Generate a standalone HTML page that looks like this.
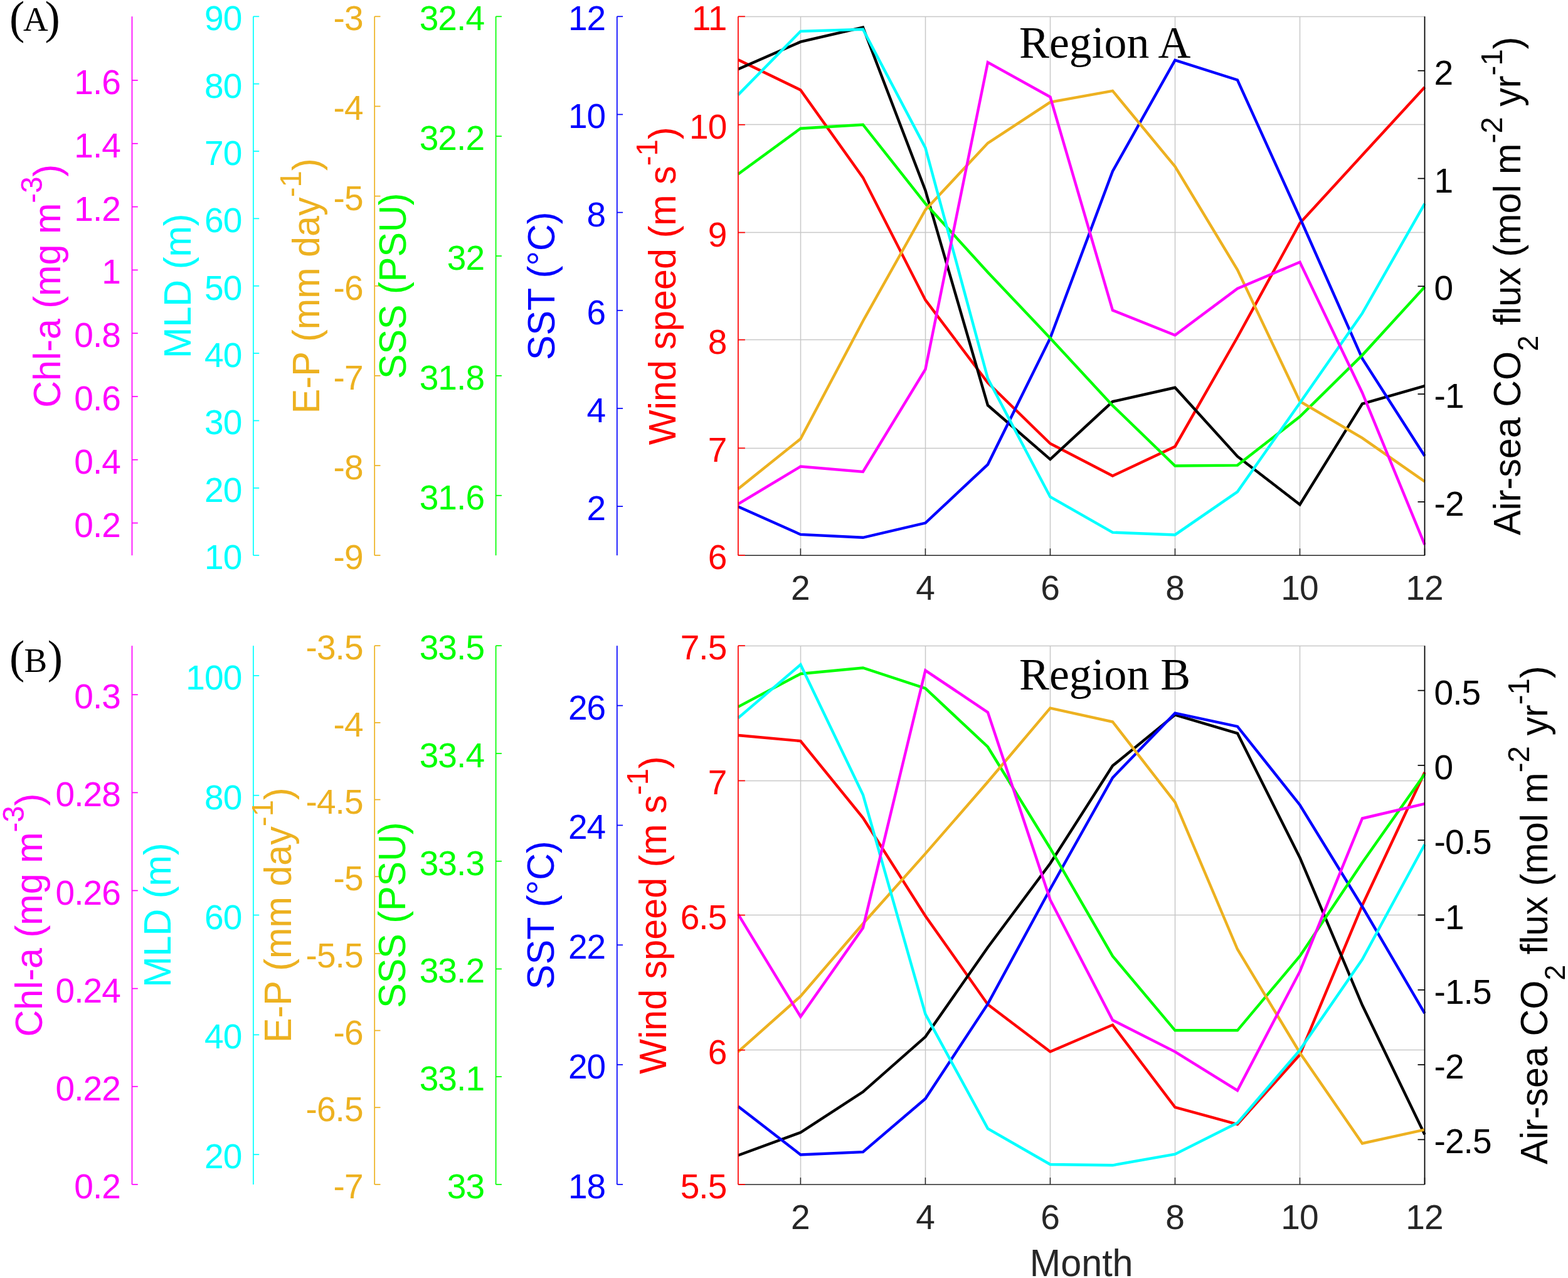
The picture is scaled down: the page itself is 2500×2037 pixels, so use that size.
<!DOCTYPE html>
<html><head><meta charset="utf-8"><title>Region A / Region B monthly climatology</title>
<style>
html,body{margin:0;padding:0;background:#fff;}
svg{display:block;}
</style></head>
<body>
<svg width="2500" height="2037" viewBox="0 0 2500 2037">
<rect width="2500" height="2037" fill="#fff"/>
<line x1="1276.5" y1="26.3" x2="1276.5" y2="885.2" stroke="#c8c8c8" stroke-width="1.5" stroke-linecap="butt"/>
<line x1="1475.5" y1="26.3" x2="1475.5" y2="885.2" stroke="#c8c8c8" stroke-width="1.5" stroke-linecap="butt"/>
<line x1="1674.5" y1="26.3" x2="1674.5" y2="885.2" stroke="#c8c8c8" stroke-width="1.5" stroke-linecap="butt"/>
<line x1="1873.5" y1="26.3" x2="1873.5" y2="885.2" stroke="#c8c8c8" stroke-width="1.5" stroke-linecap="butt"/>
<line x1="2072.5" y1="26.3" x2="2072.5" y2="885.2" stroke="#c8c8c8" stroke-width="1.5" stroke-linecap="butt"/>
<line x1="2271.5" y1="26.3" x2="2271.5" y2="885.2" stroke="#c8c8c8" stroke-width="1.5" stroke-linecap="butt"/>
<line x1="1176.9" y1="714.5" x2="2271.5" y2="714.5" stroke="#c8c8c8" stroke-width="1.5" stroke-linecap="butt"/>
<line x1="1176.9" y1="541.5" x2="2271.5" y2="541.5" stroke="#c8c8c8" stroke-width="1.5" stroke-linecap="butt"/>
<line x1="1176.9" y1="370.5" x2="2271.5" y2="370.5" stroke="#c8c8c8" stroke-width="1.5" stroke-linecap="butt"/>
<line x1="1176.9" y1="198.5" x2="2271.5" y2="198.5" stroke="#c8c8c8" stroke-width="1.5" stroke-linecap="butt"/>
<line x1="1176.9" y1="26.5" x2="2271.5" y2="26.5" stroke="#c8c8c8" stroke-width="1.5" stroke-linecap="butt"/>
<polyline points="1176.9,95.3 1276.409,143.4 1375.918,283.1 1475.427,478.2 1574.936,610 1674.445,707 1773.955,758.5 1873.464,711.7 1972.973,537.5 2072.482,355.8 2171.991,247.3 2271.5,138.9" fill="none" stroke="#ff0000" stroke-width="4.4" stroke-linejoin="miter" stroke-miterlimit="3" stroke-linecap="butt"/>
<polyline points="1176.9,110.2 1276.409,66.7 1375.918,43.5 1475.427,303.5 1574.936,646 1674.445,732.1 1773.955,640.1 1873.464,617.8 1972.973,727.5 2072.482,804.2 2171.991,643.7 2271.5,615.1" fill="none" stroke="#000000" stroke-width="4.4" stroke-linejoin="miter" stroke-miterlimit="3" stroke-linecap="butt"/>
<polyline points="1176.9,807.5 1276.409,851.9 1375.918,856.8 1475.427,833.6 1574.936,740.3 1674.445,538.9 1773.955,273 1873.464,95.8 1972.973,127.5 2072.482,347 2171.991,571.5 2271.5,726.7" fill="none" stroke="#0000ff" stroke-width="4.4" stroke-linejoin="miter" stroke-miterlimit="3" stroke-linecap="butt"/>
<polyline points="1176.9,277.6 1276.409,204.7 1375.918,198.7 1475.427,324.5 1574.936,433.9 1674.445,538.9 1773.955,646.4 1873.464,742.5 1972.973,741.6 2072.482,664.1 2171.991,566.1 2271.5,457.2" fill="none" stroke="#00ff00" stroke-width="4.4" stroke-linejoin="miter" stroke-miterlimit="3" stroke-linecap="butt"/>
<polyline points="1176.9,779.2 1276.409,699.5 1375.918,511.7 1475.427,334.5 1574.936,228.1 1674.445,162.8 1773.955,144.8 1873.464,265.4 1972.973,430 2072.482,639.6 2171.991,698.1 2271.5,767.5" fill="none" stroke="#edb120" stroke-width="4.4" stroke-linejoin="miter" stroke-miterlimit="3" stroke-linecap="butt"/>
<polyline points="1176.9,151.1 1276.409,49.8 1375.918,46.8 1475.427,235.6 1574.936,603.2 1674.445,792 1773.955,848.6 1873.464,852.4 1972.973,783.8 2072.482,642.3 2171.991,499.4 2271.5,324.7" fill="none" stroke="#00ffff" stroke-width="4.4" stroke-linejoin="miter" stroke-miterlimit="3" stroke-linecap="butt"/>
<polyline points="1176.9,803.4 1276.409,743.6 1375.918,752 1475.427,588.7 1574.936,99.3 1674.445,154.6 1773.955,494.5 1873.464,534.2 1972.973,459.9 2072.482,417.8 2171.991,626 2271.5,868.2" fill="none" stroke="#ff00ff" stroke-width="4.4" stroke-linejoin="miter" stroke-miterlimit="3" stroke-linecap="butt"/>
<line x1="1176.9" y1="885.2" x2="2271.5" y2="885.2" stroke="#262626" stroke-width="1.5" stroke-linecap="butt"/>
<line x1="1276.409" y1="885.2" x2="1276.409" y2="874.2" stroke="#262626" stroke-width="1.5" stroke-linecap="butt"/>
<text x="1276.409" y="955.9" fill="#262626" font-size="55" text-anchor="middle" font-family="'Liberation Sans', Arial, sans-serif">2</text>
<line x1="1475.427" y1="885.2" x2="1475.427" y2="874.2" stroke="#262626" stroke-width="1.5" stroke-linecap="butt"/>
<text x="1475.427" y="955.9" fill="#262626" font-size="55" text-anchor="middle" font-family="'Liberation Sans', Arial, sans-serif">4</text>
<line x1="1674.445" y1="885.2" x2="1674.445" y2="874.2" stroke="#262626" stroke-width="1.5" stroke-linecap="butt"/>
<text x="1674.445" y="955.9" fill="#262626" font-size="55" text-anchor="middle" font-family="'Liberation Sans', Arial, sans-serif">6</text>
<line x1="1873.464" y1="885.2" x2="1873.464" y2="874.2" stroke="#262626" stroke-width="1.5" stroke-linecap="butt"/>
<text x="1873.464" y="955.9" fill="#262626" font-size="55" text-anchor="middle" font-family="'Liberation Sans', Arial, sans-serif">8</text>
<line x1="2072.482" y1="885.2" x2="2072.482" y2="874.2" stroke="#262626" stroke-width="1.5" stroke-linecap="butt"/>
<text x="2072.032" y="955.9" fill="#262626" font-size="55" text-anchor="middle" font-family="'Liberation Sans', Arial, sans-serif" letter-spacing="-0.9">10</text>
<line x1="2271.5" y1="885.2" x2="2271.5" y2="874.2" stroke="#262626" stroke-width="1.5" stroke-linecap="butt"/>
<text x="2271.05" y="955.9" fill="#262626" font-size="55" text-anchor="middle" font-family="'Liberation Sans', Arial, sans-serif" letter-spacing="-0.9">12</text>
<line x1="210.5" y1="26.3" x2="210.5" y2="885.2" stroke="#ff00ff" stroke-width="1.7" stroke-linecap="butt"/>
<line x1="210.5" y1="833.6" x2="219.8" y2="833.6" stroke="#ff00ff" stroke-width="1.7" stroke-linecap="butt"/>
<text x="192" y="855.6" fill="#ff00ff" font-size="55" text-anchor="end" font-family="'Liberation Sans', Arial, sans-serif" letter-spacing="-0.9">0.2</text>
<line x1="210.5" y1="732.8" x2="219.8" y2="732.8" stroke="#ff00ff" stroke-width="1.7" stroke-linecap="butt"/>
<text x="192" y="754.8" fill="#ff00ff" font-size="55" text-anchor="end" font-family="'Liberation Sans', Arial, sans-serif" letter-spacing="-0.9">0.4</text>
<line x1="210.5" y1="632" x2="219.8" y2="632" stroke="#ff00ff" stroke-width="1.7" stroke-linecap="butt"/>
<text x="192" y="654" fill="#ff00ff" font-size="55" text-anchor="end" font-family="'Liberation Sans', Arial, sans-serif" letter-spacing="-0.9">0.6</text>
<line x1="210.5" y1="531.2" x2="219.8" y2="531.2" stroke="#ff00ff" stroke-width="1.7" stroke-linecap="butt"/>
<text x="192" y="553.2" fill="#ff00ff" font-size="55" text-anchor="end" font-family="'Liberation Sans', Arial, sans-serif" letter-spacing="-0.9">0.8</text>
<line x1="210.5" y1="430.4" x2="219.8" y2="430.4" stroke="#ff00ff" stroke-width="1.7" stroke-linecap="butt"/>
<text x="192.9" y="452.4" fill="#ff00ff" font-size="55" text-anchor="end" font-family="'Liberation Sans', Arial, sans-serif">1</text>
<line x1="210.5" y1="329.6" x2="219.8" y2="329.6" stroke="#ff00ff" stroke-width="1.7" stroke-linecap="butt"/>
<text x="192" y="351.6" fill="#ff00ff" font-size="55" text-anchor="end" font-family="'Liberation Sans', Arial, sans-serif" letter-spacing="-0.9">1.2</text>
<line x1="210.5" y1="228.8" x2="219.8" y2="228.8" stroke="#ff00ff" stroke-width="1.7" stroke-linecap="butt"/>
<text x="192" y="250.8" fill="#ff00ff" font-size="55" text-anchor="end" font-family="'Liberation Sans', Arial, sans-serif" letter-spacing="-0.9">1.4</text>
<line x1="210.5" y1="128" x2="219.8" y2="128" stroke="#ff00ff" stroke-width="1.7" stroke-linecap="butt"/>
<text x="192" y="150" fill="#ff00ff" font-size="55" text-anchor="end" font-family="'Liberation Sans', Arial, sans-serif" letter-spacing="-0.9">1.6</text>
<line x1="403.9" y1="26.3" x2="403.9" y2="885.2" stroke="#00ffff" stroke-width="1.7" stroke-linecap="butt"/>
<line x1="403.9" y1="885.2" x2="413.2" y2="885.2" stroke="#00ffff" stroke-width="1.7" stroke-linecap="butt"/>
<text x="385.4" y="907.2" fill="#00ffff" font-size="55" text-anchor="end" font-family="'Liberation Sans', Arial, sans-serif" letter-spacing="-0.9">10</text>
<line x1="403.9" y1="777.838" x2="413.2" y2="777.838" stroke="#00ffff" stroke-width="1.7" stroke-linecap="butt"/>
<text x="385.4" y="799.838" fill="#00ffff" font-size="55" text-anchor="end" font-family="'Liberation Sans', Arial, sans-serif" letter-spacing="-0.9">20</text>
<line x1="403.9" y1="670.475" x2="413.2" y2="670.475" stroke="#00ffff" stroke-width="1.7" stroke-linecap="butt"/>
<text x="385.4" y="692.475" fill="#00ffff" font-size="55" text-anchor="end" font-family="'Liberation Sans', Arial, sans-serif" letter-spacing="-0.9">30</text>
<line x1="403.9" y1="563.112" x2="413.2" y2="563.112" stroke="#00ffff" stroke-width="1.7" stroke-linecap="butt"/>
<text x="385.4" y="585.112" fill="#00ffff" font-size="55" text-anchor="end" font-family="'Liberation Sans', Arial, sans-serif" letter-spacing="-0.9">40</text>
<line x1="403.9" y1="455.75" x2="413.2" y2="455.75" stroke="#00ffff" stroke-width="1.7" stroke-linecap="butt"/>
<text x="385.4" y="477.75" fill="#00ffff" font-size="55" text-anchor="end" font-family="'Liberation Sans', Arial, sans-serif" letter-spacing="-0.9">50</text>
<line x1="403.9" y1="348.388" x2="413.2" y2="348.388" stroke="#00ffff" stroke-width="1.7" stroke-linecap="butt"/>
<text x="385.4" y="370.388" fill="#00ffff" font-size="55" text-anchor="end" font-family="'Liberation Sans', Arial, sans-serif" letter-spacing="-0.9">60</text>
<line x1="403.9" y1="241.025" x2="413.2" y2="241.025" stroke="#00ffff" stroke-width="1.7" stroke-linecap="butt"/>
<text x="385.4" y="263.025" fill="#00ffff" font-size="55" text-anchor="end" font-family="'Liberation Sans', Arial, sans-serif" letter-spacing="-0.9">70</text>
<line x1="403.9" y1="133.662" x2="413.2" y2="133.662" stroke="#00ffff" stroke-width="1.7" stroke-linecap="butt"/>
<text x="385.4" y="155.662" fill="#00ffff" font-size="55" text-anchor="end" font-family="'Liberation Sans', Arial, sans-serif" letter-spacing="-0.9">80</text>
<line x1="403.9" y1="26.3" x2="413.2" y2="26.3" stroke="#00ffff" stroke-width="1.7" stroke-linecap="butt"/>
<text x="385.4" y="48.3" fill="#00ffff" font-size="55" text-anchor="end" font-family="'Liberation Sans', Arial, sans-serif" letter-spacing="-0.9">90</text>
<line x1="597.2" y1="26.3" x2="597.2" y2="885.2" stroke="#edb120" stroke-width="1.7" stroke-linecap="butt"/>
<line x1="597.2" y1="885.2" x2="606.5" y2="885.2" stroke="#edb120" stroke-width="1.7" stroke-linecap="butt"/>
<text x="578.7" y="907.2" fill="#edb120" font-size="55" text-anchor="end" font-family="'Liberation Sans', Arial, sans-serif" letter-spacing="-0.9">-9</text>
<line x1="597.2" y1="742.05" x2="606.5" y2="742.05" stroke="#edb120" stroke-width="1.7" stroke-linecap="butt"/>
<text x="578.7" y="764.05" fill="#edb120" font-size="55" text-anchor="end" font-family="'Liberation Sans', Arial, sans-serif" letter-spacing="-0.9">-8</text>
<line x1="597.2" y1="598.9" x2="606.5" y2="598.9" stroke="#edb120" stroke-width="1.7" stroke-linecap="butt"/>
<text x="578.7" y="620.9" fill="#edb120" font-size="55" text-anchor="end" font-family="'Liberation Sans', Arial, sans-serif" letter-spacing="-0.9">-7</text>
<line x1="597.2" y1="455.75" x2="606.5" y2="455.75" stroke="#edb120" stroke-width="1.7" stroke-linecap="butt"/>
<text x="578.7" y="477.75" fill="#edb120" font-size="55" text-anchor="end" font-family="'Liberation Sans', Arial, sans-serif" letter-spacing="-0.9">-6</text>
<line x1="597.2" y1="312.6" x2="606.5" y2="312.6" stroke="#edb120" stroke-width="1.7" stroke-linecap="butt"/>
<text x="578.7" y="334.6" fill="#edb120" font-size="55" text-anchor="end" font-family="'Liberation Sans', Arial, sans-serif" letter-spacing="-0.9">-5</text>
<line x1="597.2" y1="169.45" x2="606.5" y2="169.45" stroke="#edb120" stroke-width="1.7" stroke-linecap="butt"/>
<text x="578.7" y="191.45" fill="#edb120" font-size="55" text-anchor="end" font-family="'Liberation Sans', Arial, sans-serif" letter-spacing="-0.9">-4</text>
<line x1="597.2" y1="26.3" x2="606.5" y2="26.3" stroke="#edb120" stroke-width="1.7" stroke-linecap="butt"/>
<text x="578.7" y="48.3" fill="#edb120" font-size="55" text-anchor="end" font-family="'Liberation Sans', Arial, sans-serif" letter-spacing="-0.9">-3</text>
<line x1="790.6" y1="26.3" x2="790.6" y2="885.2" stroke="#00ff00" stroke-width="1.7" stroke-linecap="butt"/>
<line x1="790.6" y1="789.767" x2="799.9" y2="789.767" stroke="#00ff00" stroke-width="1.7" stroke-linecap="butt"/>
<text x="772.1" y="811.767" fill="#00ff00" font-size="55" text-anchor="end" font-family="'Liberation Sans', Arial, sans-serif" letter-spacing="-0.9">31.6</text>
<line x1="790.6" y1="598.9" x2="799.9" y2="598.9" stroke="#00ff00" stroke-width="1.7" stroke-linecap="butt"/>
<text x="772.1" y="620.9" fill="#00ff00" font-size="55" text-anchor="end" font-family="'Liberation Sans', Arial, sans-serif" letter-spacing="-0.9">31.8</text>
<line x1="790.6" y1="408.033" x2="799.9" y2="408.033" stroke="#00ff00" stroke-width="1.7" stroke-linecap="butt"/>
<text x="772.1" y="430.033" fill="#00ff00" font-size="55" text-anchor="end" font-family="'Liberation Sans', Arial, sans-serif" letter-spacing="-0.9">32</text>
<line x1="790.6" y1="217.167" x2="799.9" y2="217.167" stroke="#00ff00" stroke-width="1.7" stroke-linecap="butt"/>
<text x="772.1" y="239.167" fill="#00ff00" font-size="55" text-anchor="end" font-family="'Liberation Sans', Arial, sans-serif" letter-spacing="-0.9">32.2</text>
<line x1="790.6" y1="26.3" x2="799.9" y2="26.3" stroke="#00ff00" stroke-width="1.7" stroke-linecap="butt"/>
<text x="772.1" y="48.3" fill="#00ff00" font-size="55" text-anchor="end" font-family="'Liberation Sans', Arial, sans-serif" letter-spacing="-0.9">32.4</text>
<line x1="983.8" y1="26.3" x2="983.8" y2="885.2" stroke="#0000ff" stroke-width="1.7" stroke-linecap="butt"/>
<line x1="983.8" y1="807.118" x2="993.1" y2="807.118" stroke="#0000ff" stroke-width="1.7" stroke-linecap="butt"/>
<text x="966.2" y="829.118" fill="#0000ff" font-size="55" text-anchor="end" font-family="'Liberation Sans', Arial, sans-serif">2</text>
<line x1="983.8" y1="650.955" x2="993.1" y2="650.955" stroke="#0000ff" stroke-width="1.7" stroke-linecap="butt"/>
<text x="966.2" y="672.955" fill="#0000ff" font-size="55" text-anchor="end" font-family="'Liberation Sans', Arial, sans-serif">4</text>
<line x1="983.8" y1="494.791" x2="993.1" y2="494.791" stroke="#0000ff" stroke-width="1.7" stroke-linecap="butt"/>
<text x="966.2" y="516.791" fill="#0000ff" font-size="55" text-anchor="end" font-family="'Liberation Sans', Arial, sans-serif">6</text>
<line x1="983.8" y1="338.627" x2="993.1" y2="338.627" stroke="#0000ff" stroke-width="1.7" stroke-linecap="butt"/>
<text x="966.2" y="360.627" fill="#0000ff" font-size="55" text-anchor="end" font-family="'Liberation Sans', Arial, sans-serif">8</text>
<line x1="983.8" y1="182.464" x2="993.1" y2="182.464" stroke="#0000ff" stroke-width="1.7" stroke-linecap="butt"/>
<text x="965.3" y="204.464" fill="#0000ff" font-size="55" text-anchor="end" font-family="'Liberation Sans', Arial, sans-serif" letter-spacing="-0.9">10</text>
<line x1="983.8" y1="26.3" x2="993.1" y2="26.3" stroke="#0000ff" stroke-width="1.7" stroke-linecap="butt"/>
<text x="965.3" y="48.3" fill="#0000ff" font-size="55" text-anchor="end" font-family="'Liberation Sans', Arial, sans-serif" letter-spacing="-0.9">12</text>
<line x1="1176.9" y1="26.3" x2="1176.9" y2="885.2" stroke="#ff0000" stroke-width="1.7" stroke-linecap="butt"/>
<line x1="1176.9" y1="885.2" x2="1187.9" y2="885.2" stroke="#ff0000" stroke-width="1.7" stroke-linecap="butt"/>
<text x="1159.3" y="907.2" fill="#ff0000" font-size="55" text-anchor="end" font-family="'Liberation Sans', Arial, sans-serif">6</text>
<line x1="1176.9" y1="714.3" x2="1187.9" y2="714.3" stroke="#ff0000" stroke-width="1.7" stroke-linecap="butt"/>
<text x="1159.3" y="736.3" fill="#ff0000" font-size="55" text-anchor="end" font-family="'Liberation Sans', Arial, sans-serif">7</text>
<line x1="1176.9" y1="541.6" x2="1187.9" y2="541.6" stroke="#ff0000" stroke-width="1.7" stroke-linecap="butt"/>
<text x="1159.3" y="563.6" fill="#ff0000" font-size="55" text-anchor="end" font-family="'Liberation Sans', Arial, sans-serif">8</text>
<line x1="1176.9" y1="370.6" x2="1187.9" y2="370.6" stroke="#ff0000" stroke-width="1.7" stroke-linecap="butt"/>
<text x="1159.3" y="392.6" fill="#ff0000" font-size="55" text-anchor="end" font-family="'Liberation Sans', Arial, sans-serif">9</text>
<line x1="1176.9" y1="198.8" x2="1187.9" y2="198.8" stroke="#ff0000" stroke-width="1.7" stroke-linecap="butt"/>
<text x="1158.4" y="220.8" fill="#ff0000" font-size="55" text-anchor="end" font-family="'Liberation Sans', Arial, sans-serif" letter-spacing="-0.9">10</text>
<line x1="1176.9" y1="26.3" x2="1187.9" y2="26.3" stroke="#ff0000" stroke-width="1.7" stroke-linecap="butt"/>
<text x="1158.4" y="48.3" fill="#ff0000" font-size="55" text-anchor="end" font-family="'Liberation Sans', Arial, sans-serif" letter-spacing="-0.9">11</text>
<line x1="2271.5" y1="26.3" x2="2271.5" y2="885.2" stroke="#000000" stroke-width="1.7" stroke-linecap="butt"/>
<line x1="2271.5" y1="799.9" x2="2260.5" y2="799.9" stroke="#000000" stroke-width="1.7" stroke-linecap="butt"/>
<text x="2286.5" y="821.9" fill="#000000" font-size="55" text-anchor="start" font-family="'Liberation Sans', Arial, sans-serif" letter-spacing="-0.9">-2</text>
<line x1="2271.5" y1="628.1" x2="2260.5" y2="628.1" stroke="#000000" stroke-width="1.7" stroke-linecap="butt"/>
<text x="2286.5" y="650.1" fill="#000000" font-size="55" text-anchor="start" font-family="'Liberation Sans', Arial, sans-serif" letter-spacing="-0.9">-1</text>
<line x1="2271.5" y1="456.3" x2="2260.5" y2="456.3" stroke="#000000" stroke-width="1.7" stroke-linecap="butt"/>
<text x="2286.5" y="478.3" fill="#000000" font-size="55" text-anchor="start" font-family="'Liberation Sans', Arial, sans-serif">0</text>
<line x1="2271.5" y1="284.5" x2="2260.5" y2="284.5" stroke="#000000" stroke-width="1.7" stroke-linecap="butt"/>
<text x="2286.5" y="306.5" fill="#000000" font-size="55" text-anchor="start" font-family="'Liberation Sans', Arial, sans-serif">1</text>
<line x1="2271.5" y1="112.7" x2="2260.5" y2="112.7" stroke="#000000" stroke-width="1.7" stroke-linecap="butt"/>
<text x="2286.5" y="134.7" fill="#000000" font-size="55" text-anchor="start" font-family="'Liberation Sans', Arial, sans-serif">2</text>
<text transform="translate(95.9,455.75) rotate(-90) scale(1,1.027)" fill="#ff00ff" font-size="59.3" text-anchor="middle" font-family="'Liberation Sans', Arial, sans-serif" xml:space="preserve"><tspan font-size="59.3">Chl-a (mg m</tspan><tspan font-size="47.5" dy="-28.238">-3</tspan><tspan font-size="59.3" dy="28.238">)</tspan></text>
<text transform="translate(303.8,455.75) rotate(-90) scale(1,1.027)" fill="#00ffff" font-size="59.3" text-anchor="middle" font-family="'Liberation Sans', Arial, sans-serif" xml:space="preserve"><tspan font-size="59.3">MLD (m)</tspan></text>
<text transform="translate(509.2,455.75) rotate(-90) scale(1,1.027)" fill="#edb120" font-size="59.3" text-anchor="middle" font-family="'Liberation Sans', Arial, sans-serif" xml:space="preserve"><tspan font-size="59.3">E-P (mm day</tspan><tspan font-size="47.5" dy="-28.238">-1</tspan><tspan font-size="59.3" dy="28.238">)</tspan></text>
<text transform="translate(647.2,455.75) rotate(-90) scale(1,1.027)" fill="#00ff00" font-size="59.3" text-anchor="middle" font-family="'Liberation Sans', Arial, sans-serif" xml:space="preserve"><tspan font-size="59.3">SSS (PSU)</tspan></text>
<text transform="translate(883.8,455.75) rotate(-90) scale(1,1.027)" fill="#0000ff" font-size="59.3" text-anchor="middle" font-family="'Liberation Sans', Arial, sans-serif" xml:space="preserve"><tspan font-size="59.3">SST (°C)</tspan></text>
<text transform="translate(1077,455.75) rotate(-90) scale(1,1.027)" fill="#ff0000" font-size="59.3" text-anchor="middle" font-family="'Liberation Sans', Arial, sans-serif" xml:space="preserve"><tspan font-size="59.3">Wind speed (m s</tspan><tspan font-size="47.5" dy="-28.238">-1</tspan><tspan font-size="59.3" dy="28.238">)</tspan></text>
<text transform="translate(2423.6,455.75) rotate(-90) scale(1,1.027)" fill="#000000" font-size="59.3" text-anchor="middle" font-family="'Liberation Sans', Arial, sans-serif" xml:space="preserve"><tspan font-size="59.3">Air-sea CO</tspan><tspan font-size="45" dy="27.264">2</tspan><tspan font-size="59.3" dy="-27.264"> flux (mol m</tspan><tspan font-size="47.5" dy="-28.238">-2</tspan><tspan font-size="59.3" dy="28.238"> yr</tspan><tspan font-size="47.5" dy="-28.238">-1</tspan><tspan font-size="59.3" dy="28.238">)</tspan></text>
<line x1="1276.5" y1="1029.2" x2="1276.5" y2="1887.9" stroke="#c8c8c8" stroke-width="1.5" stroke-linecap="butt"/>
<line x1="1475.5" y1="1029.2" x2="1475.5" y2="1887.9" stroke="#c8c8c8" stroke-width="1.5" stroke-linecap="butt"/>
<line x1="1674.5" y1="1029.2" x2="1674.5" y2="1887.9" stroke="#c8c8c8" stroke-width="1.5" stroke-linecap="butt"/>
<line x1="1873.5" y1="1029.2" x2="1873.5" y2="1887.9" stroke="#c8c8c8" stroke-width="1.5" stroke-linecap="butt"/>
<line x1="2072.5" y1="1029.2" x2="2072.5" y2="1887.9" stroke="#c8c8c8" stroke-width="1.5" stroke-linecap="butt"/>
<line x1="2271.5" y1="1029.2" x2="2271.5" y2="1887.9" stroke="#c8c8c8" stroke-width="1.5" stroke-linecap="butt"/>
<line x1="1176.9" y1="1673.5" x2="2271.5" y2="1673.5" stroke="#c8c8c8" stroke-width="1.5" stroke-linecap="butt"/>
<line x1="1176.9" y1="1458.5" x2="2271.5" y2="1458.5" stroke="#c8c8c8" stroke-width="1.5" stroke-linecap="butt"/>
<line x1="1176.9" y1="1244.5" x2="2271.5" y2="1244.5" stroke="#c8c8c8" stroke-width="1.5" stroke-linecap="butt"/>
<line x1="1176.9" y1="1029.5" x2="2271.5" y2="1029.5" stroke="#c8c8c8" stroke-width="1.5" stroke-linecap="butt"/>
<polyline points="1176.9,1172 1276.409,1181 1375.918,1303.5 1475.427,1459.9 1574.936,1600.9 1674.445,1676.3 1773.955,1633.6 1873.464,1764.8 1972.973,1792 2072.482,1681 2171.991,1443 2271.5,1231" fill="none" stroke="#ff0000" stroke-width="4.4" stroke-linejoin="miter" stroke-miterlimit="3" stroke-linecap="butt"/>
<polyline points="1176.9,1841.5 1276.409,1805.1 1375.918,1740.3 1475.427,1652.6 1574.936,1510 1674.445,1376.3 1773.955,1220.6 1873.464,1139.4 1972.973,1168.8 2072.482,1367 2171.991,1602 2271.5,1808.3" fill="none" stroke="#000000" stroke-width="4.4" stroke-linejoin="miter" stroke-miterlimit="3" stroke-linecap="butt"/>
<polyline points="1176.9,1763.4 1276.409,1840.5 1375.918,1836.1 1475.427,1751.2 1574.936,1600.1 1674.445,1417 1773.955,1239.6 1873.464,1136.6 1972.973,1157.9 2072.482,1283 2171.991,1445 2271.5,1615.1" fill="none" stroke="#0000ff" stroke-width="4.4" stroke-linejoin="miter" stroke-miterlimit="3" stroke-linecap="butt"/>
<polyline points="1176.9,1126.6 1276.409,1074 1375.918,1064.5 1475.427,1097.2 1574.936,1190.5 1674.445,1352 1773.955,1523.9 1873.464,1642.3 1972.973,1642.3 2072.482,1523.9 2171.991,1375 2271.5,1233.7" fill="none" stroke="#00ff00" stroke-width="4.4" stroke-linejoin="miter" stroke-miterlimit="3" stroke-linecap="butt"/>
<polyline points="1176.9,1676.3 1276.409,1587.9 1375.918,1472.2 1475.427,1360.6 1574.936,1246.3 1674.445,1128.7 1773.955,1150.5 1873.464,1278.6 1972.973,1513 2072.482,1678 2171.991,1822.5 2271.5,1800.7" fill="none" stroke="#edb120" stroke-width="4.4" stroke-linejoin="miter" stroke-miterlimit="3" stroke-linecap="butt"/>
<polyline points="1176.9,1144.3 1276.409,1059.3 1375.918,1266.7 1475.427,1616.4 1574.936,1798.8 1674.445,1856 1773.955,1857.3 1873.464,1839.6 1972.973,1789.8 2072.482,1673.6 2171.991,1529.3 2271.5,1346" fill="none" stroke="#00ffff" stroke-width="4.4" stroke-linejoin="miter" stroke-miterlimit="3" stroke-linecap="butt"/>
<polyline points="1176.9,1457.2 1276.409,1620.5 1375.918,1479 1475.427,1068.6 1574.936,1135.3 1674.445,1434.2 1773.955,1626 1873.464,1676.3 1972.973,1738.1 2072.482,1548.4 2171.991,1304.5 2271.5,1281.2" fill="none" stroke="#ff00ff" stroke-width="4.4" stroke-linejoin="miter" stroke-miterlimit="3" stroke-linecap="butt"/>
<line x1="1176.9" y1="1887.9" x2="2271.5" y2="1887.9" stroke="#262626" stroke-width="1.5" stroke-linecap="butt"/>
<line x1="1276.409" y1="1887.9" x2="1276.409" y2="1876.9" stroke="#262626" stroke-width="1.5" stroke-linecap="butt"/>
<text x="1276.409" y="1958.6" fill="#262626" font-size="55" text-anchor="middle" font-family="'Liberation Sans', Arial, sans-serif">2</text>
<line x1="1475.427" y1="1887.9" x2="1475.427" y2="1876.9" stroke="#262626" stroke-width="1.5" stroke-linecap="butt"/>
<text x="1475.427" y="1958.6" fill="#262626" font-size="55" text-anchor="middle" font-family="'Liberation Sans', Arial, sans-serif">4</text>
<line x1="1674.445" y1="1887.9" x2="1674.445" y2="1876.9" stroke="#262626" stroke-width="1.5" stroke-linecap="butt"/>
<text x="1674.445" y="1958.6" fill="#262626" font-size="55" text-anchor="middle" font-family="'Liberation Sans', Arial, sans-serif">6</text>
<line x1="1873.464" y1="1887.9" x2="1873.464" y2="1876.9" stroke="#262626" stroke-width="1.5" stroke-linecap="butt"/>
<text x="1873.464" y="1958.6" fill="#262626" font-size="55" text-anchor="middle" font-family="'Liberation Sans', Arial, sans-serif">8</text>
<line x1="2072.482" y1="1887.9" x2="2072.482" y2="1876.9" stroke="#262626" stroke-width="1.5" stroke-linecap="butt"/>
<text x="2072.032" y="1958.6" fill="#262626" font-size="55" text-anchor="middle" font-family="'Liberation Sans', Arial, sans-serif" letter-spacing="-0.9">10</text>
<line x1="2271.5" y1="1887.9" x2="2271.5" y2="1876.9" stroke="#262626" stroke-width="1.5" stroke-linecap="butt"/>
<text x="2271.05" y="1958.6" fill="#262626" font-size="55" text-anchor="middle" font-family="'Liberation Sans', Arial, sans-serif" letter-spacing="-0.9">12</text>
<line x1="210.5" y1="1029.2" x2="210.5" y2="1887.9" stroke="#ff00ff" stroke-width="1.7" stroke-linecap="butt"/>
<line x1="210.5" y1="1887.9" x2="219.8" y2="1887.9" stroke="#ff00ff" stroke-width="1.7" stroke-linecap="butt"/>
<text x="192" y="1909.9" fill="#ff00ff" font-size="55" text-anchor="end" font-family="'Liberation Sans', Arial, sans-serif" letter-spacing="-0.9">0.2</text>
<line x1="210.5" y1="1731.773" x2="219.8" y2="1731.773" stroke="#ff00ff" stroke-width="1.7" stroke-linecap="butt"/>
<text x="192" y="1753.773" fill="#ff00ff" font-size="55" text-anchor="end" font-family="'Liberation Sans', Arial, sans-serif" letter-spacing="-0.9">0.22</text>
<line x1="210.5" y1="1575.645" x2="219.8" y2="1575.645" stroke="#ff00ff" stroke-width="1.7" stroke-linecap="butt"/>
<text x="192" y="1597.645" fill="#ff00ff" font-size="55" text-anchor="end" font-family="'Liberation Sans', Arial, sans-serif" letter-spacing="-0.9">0.24</text>
<line x1="210.5" y1="1419.518" x2="219.8" y2="1419.518" stroke="#ff00ff" stroke-width="1.7" stroke-linecap="butt"/>
<text x="192" y="1441.518" fill="#ff00ff" font-size="55" text-anchor="end" font-family="'Liberation Sans', Arial, sans-serif" letter-spacing="-0.9">0.26</text>
<line x1="210.5" y1="1263.391" x2="219.8" y2="1263.391" stroke="#ff00ff" stroke-width="1.7" stroke-linecap="butt"/>
<text x="192" y="1285.391" fill="#ff00ff" font-size="55" text-anchor="end" font-family="'Liberation Sans', Arial, sans-serif" letter-spacing="-0.9">0.28</text>
<line x1="210.5" y1="1107.264" x2="219.8" y2="1107.264" stroke="#ff00ff" stroke-width="1.7" stroke-linecap="butt"/>
<text x="192" y="1129.264" fill="#ff00ff" font-size="55" text-anchor="end" font-family="'Liberation Sans', Arial, sans-serif" letter-spacing="-0.9">0.3</text>
<line x1="403.9" y1="1029.2" x2="403.9" y2="1887.9" stroke="#00ffff" stroke-width="1.7" stroke-linecap="butt"/>
<line x1="403.9" y1="1840.194" x2="413.2" y2="1840.194" stroke="#00ffff" stroke-width="1.7" stroke-linecap="butt"/>
<text x="385.4" y="1862.194" fill="#00ffff" font-size="55" text-anchor="end" font-family="'Liberation Sans', Arial, sans-serif" letter-spacing="-0.9">20</text>
<line x1="403.9" y1="1649.372" x2="413.2" y2="1649.372" stroke="#00ffff" stroke-width="1.7" stroke-linecap="butt"/>
<text x="385.4" y="1671.372" fill="#00ffff" font-size="55" text-anchor="end" font-family="'Liberation Sans', Arial, sans-serif" letter-spacing="-0.9">40</text>
<line x1="403.9" y1="1458.55" x2="413.2" y2="1458.55" stroke="#00ffff" stroke-width="1.7" stroke-linecap="butt"/>
<text x="385.4" y="1480.55" fill="#00ffff" font-size="55" text-anchor="end" font-family="'Liberation Sans', Arial, sans-serif" letter-spacing="-0.9">60</text>
<line x1="403.9" y1="1267.728" x2="413.2" y2="1267.728" stroke="#00ffff" stroke-width="1.7" stroke-linecap="butt"/>
<text x="385.4" y="1289.728" fill="#00ffff" font-size="55" text-anchor="end" font-family="'Liberation Sans', Arial, sans-serif" letter-spacing="-0.9">80</text>
<line x1="403.9" y1="1076.906" x2="413.2" y2="1076.906" stroke="#00ffff" stroke-width="1.7" stroke-linecap="butt"/>
<text x="385.4" y="1098.906" fill="#00ffff" font-size="55" text-anchor="end" font-family="'Liberation Sans', Arial, sans-serif" letter-spacing="-0.9">100</text>
<line x1="597.2" y1="1029.2" x2="597.2" y2="1887.9" stroke="#edb120" stroke-width="1.7" stroke-linecap="butt"/>
<line x1="597.2" y1="1887.9" x2="606.5" y2="1887.9" stroke="#edb120" stroke-width="1.7" stroke-linecap="butt"/>
<text x="578.7" y="1909.9" fill="#edb120" font-size="55" text-anchor="end" font-family="'Liberation Sans', Arial, sans-serif" letter-spacing="-0.9">-7</text>
<line x1="597.2" y1="1765.229" x2="606.5" y2="1765.229" stroke="#edb120" stroke-width="1.7" stroke-linecap="butt"/>
<text x="578.7" y="1787.229" fill="#edb120" font-size="55" text-anchor="end" font-family="'Liberation Sans', Arial, sans-serif" letter-spacing="-0.9">-6.5</text>
<line x1="597.2" y1="1642.557" x2="606.5" y2="1642.557" stroke="#edb120" stroke-width="1.7" stroke-linecap="butt"/>
<text x="578.7" y="1664.557" fill="#edb120" font-size="55" text-anchor="end" font-family="'Liberation Sans', Arial, sans-serif" letter-spacing="-0.9">-6</text>
<line x1="597.2" y1="1519.886" x2="606.5" y2="1519.886" stroke="#edb120" stroke-width="1.7" stroke-linecap="butt"/>
<text x="578.7" y="1541.886" fill="#edb120" font-size="55" text-anchor="end" font-family="'Liberation Sans', Arial, sans-serif" letter-spacing="-0.9">-5.5</text>
<line x1="597.2" y1="1397.214" x2="606.5" y2="1397.214" stroke="#edb120" stroke-width="1.7" stroke-linecap="butt"/>
<text x="578.7" y="1419.214" fill="#edb120" font-size="55" text-anchor="end" font-family="'Liberation Sans', Arial, sans-serif" letter-spacing="-0.9">-5</text>
<line x1="597.2" y1="1274.543" x2="606.5" y2="1274.543" stroke="#edb120" stroke-width="1.7" stroke-linecap="butt"/>
<text x="578.7" y="1296.543" fill="#edb120" font-size="55" text-anchor="end" font-family="'Liberation Sans', Arial, sans-serif" letter-spacing="-0.9">-4.5</text>
<line x1="597.2" y1="1151.871" x2="606.5" y2="1151.871" stroke="#edb120" stroke-width="1.7" stroke-linecap="butt"/>
<text x="578.7" y="1173.871" fill="#edb120" font-size="55" text-anchor="end" font-family="'Liberation Sans', Arial, sans-serif" letter-spacing="-0.9">-4</text>
<line x1="597.2" y1="1029.2" x2="606.5" y2="1029.2" stroke="#edb120" stroke-width="1.7" stroke-linecap="butt"/>
<text x="578.7" y="1051.2" fill="#edb120" font-size="55" text-anchor="end" font-family="'Liberation Sans', Arial, sans-serif" letter-spacing="-0.9">-3.5</text>
<line x1="790.6" y1="1029.2" x2="790.6" y2="1887.9" stroke="#00ff00" stroke-width="1.7" stroke-linecap="butt"/>
<line x1="790.6" y1="1887.9" x2="799.9" y2="1887.9" stroke="#00ff00" stroke-width="1.7" stroke-linecap="butt"/>
<text x="772.1" y="1909.9" fill="#00ff00" font-size="55" text-anchor="end" font-family="'Liberation Sans', Arial, sans-serif" letter-spacing="-0.9">33</text>
<line x1="790.6" y1="1716.16" x2="799.9" y2="1716.16" stroke="#00ff00" stroke-width="1.7" stroke-linecap="butt"/>
<text x="772.1" y="1738.16" fill="#00ff00" font-size="55" text-anchor="end" font-family="'Liberation Sans', Arial, sans-serif" letter-spacing="-0.9">33.1</text>
<line x1="790.6" y1="1544.42" x2="799.9" y2="1544.42" stroke="#00ff00" stroke-width="1.7" stroke-linecap="butt"/>
<text x="772.1" y="1566.42" fill="#00ff00" font-size="55" text-anchor="end" font-family="'Liberation Sans', Arial, sans-serif" letter-spacing="-0.9">33.2</text>
<line x1="790.6" y1="1372.68" x2="799.9" y2="1372.68" stroke="#00ff00" stroke-width="1.7" stroke-linecap="butt"/>
<text x="772.1" y="1394.68" fill="#00ff00" font-size="55" text-anchor="end" font-family="'Liberation Sans', Arial, sans-serif" letter-spacing="-0.9">33.3</text>
<line x1="790.6" y1="1200.94" x2="799.9" y2="1200.94" stroke="#00ff00" stroke-width="1.7" stroke-linecap="butt"/>
<text x="772.1" y="1222.94" fill="#00ff00" font-size="55" text-anchor="end" font-family="'Liberation Sans', Arial, sans-serif" letter-spacing="-0.9">33.4</text>
<line x1="790.6" y1="1029.2" x2="799.9" y2="1029.2" stroke="#00ff00" stroke-width="1.7" stroke-linecap="butt"/>
<text x="772.1" y="1051.2" fill="#00ff00" font-size="55" text-anchor="end" font-family="'Liberation Sans', Arial, sans-serif" letter-spacing="-0.9">33.5</text>
<line x1="983.8" y1="1029.2" x2="983.8" y2="1887.9" stroke="#0000ff" stroke-width="1.7" stroke-linecap="butt"/>
<line x1="983.8" y1="1887.9" x2="993.1" y2="1887.9" stroke="#0000ff" stroke-width="1.7" stroke-linecap="butt"/>
<text x="965.3" y="1909.9" fill="#0000ff" font-size="55" text-anchor="end" font-family="'Liberation Sans', Arial, sans-serif" letter-spacing="-0.9">18</text>
<line x1="983.8" y1="1697.078" x2="993.1" y2="1697.078" stroke="#0000ff" stroke-width="1.7" stroke-linecap="butt"/>
<text x="965.3" y="1719.078" fill="#0000ff" font-size="55" text-anchor="end" font-family="'Liberation Sans', Arial, sans-serif" letter-spacing="-0.9">20</text>
<line x1="983.8" y1="1506.256" x2="993.1" y2="1506.256" stroke="#0000ff" stroke-width="1.7" stroke-linecap="butt"/>
<text x="965.3" y="1528.256" fill="#0000ff" font-size="55" text-anchor="end" font-family="'Liberation Sans', Arial, sans-serif" letter-spacing="-0.9">22</text>
<line x1="983.8" y1="1315.433" x2="993.1" y2="1315.433" stroke="#0000ff" stroke-width="1.7" stroke-linecap="butt"/>
<text x="965.3" y="1337.433" fill="#0000ff" font-size="55" text-anchor="end" font-family="'Liberation Sans', Arial, sans-serif" letter-spacing="-0.9">24</text>
<line x1="983.8" y1="1124.611" x2="993.1" y2="1124.611" stroke="#0000ff" stroke-width="1.7" stroke-linecap="butt"/>
<text x="965.3" y="1146.611" fill="#0000ff" font-size="55" text-anchor="end" font-family="'Liberation Sans', Arial, sans-serif" letter-spacing="-0.9">26</text>
<line x1="1176.9" y1="1029.2" x2="1176.9" y2="1887.9" stroke="#ff0000" stroke-width="1.7" stroke-linecap="butt"/>
<line x1="1176.9" y1="1887.9" x2="1187.9" y2="1887.9" stroke="#ff0000" stroke-width="1.7" stroke-linecap="butt"/>
<text x="1158.4" y="1909.9" fill="#ff0000" font-size="55" text-anchor="end" font-family="'Liberation Sans', Arial, sans-serif" letter-spacing="-0.9">5.5</text>
<line x1="1176.9" y1="1673.7" x2="1187.9" y2="1673.7" stroke="#ff0000" stroke-width="1.7" stroke-linecap="butt"/>
<text x="1159.3" y="1695.7" fill="#ff0000" font-size="55" text-anchor="end" font-family="'Liberation Sans', Arial, sans-serif">6</text>
<line x1="1176.9" y1="1458.6" x2="1187.9" y2="1458.6" stroke="#ff0000" stroke-width="1.7" stroke-linecap="butt"/>
<text x="1158.4" y="1480.6" fill="#ff0000" font-size="55" text-anchor="end" font-family="'Liberation Sans', Arial, sans-serif" letter-spacing="-0.9">6.5</text>
<line x1="1176.9" y1="1244.4" x2="1187.9" y2="1244.4" stroke="#ff0000" stroke-width="1.7" stroke-linecap="butt"/>
<text x="1159.3" y="1266.4" fill="#ff0000" font-size="55" text-anchor="end" font-family="'Liberation Sans', Arial, sans-serif">7</text>
<line x1="1176.9" y1="1029.2" x2="1187.9" y2="1029.2" stroke="#ff0000" stroke-width="1.7" stroke-linecap="butt"/>
<text x="1158.4" y="1051.2" fill="#ff0000" font-size="55" text-anchor="end" font-family="'Liberation Sans', Arial, sans-serif" letter-spacing="-0.9">7.5</text>
<line x1="2271.5" y1="1029.2" x2="2271.5" y2="1887.9" stroke="#000000" stroke-width="1.7" stroke-linecap="butt"/>
<line x1="2271.5" y1="1816.4" x2="2260.5" y2="1816.4" stroke="#000000" stroke-width="1.7" stroke-linecap="butt"/>
<text x="2286.5" y="1838.4" fill="#000000" font-size="55" text-anchor="start" font-family="'Liberation Sans', Arial, sans-serif" letter-spacing="-0.9">-2.5</text>
<line x1="2271.5" y1="1697.1" x2="2260.5" y2="1697.1" stroke="#000000" stroke-width="1.7" stroke-linecap="butt"/>
<text x="2286.5" y="1719.1" fill="#000000" font-size="55" text-anchor="start" font-family="'Liberation Sans', Arial, sans-serif" letter-spacing="-0.9">-2</text>
<line x1="2271.5" y1="1577.8" x2="2260.5" y2="1577.8" stroke="#000000" stroke-width="1.7" stroke-linecap="butt"/>
<text x="2286.5" y="1599.8" fill="#000000" font-size="55" text-anchor="start" font-family="'Liberation Sans', Arial, sans-serif" letter-spacing="-0.9">-1.5</text>
<line x1="2271.5" y1="1458.5" x2="2260.5" y2="1458.5" stroke="#000000" stroke-width="1.7" stroke-linecap="butt"/>
<text x="2286.5" y="1480.5" fill="#000000" font-size="55" text-anchor="start" font-family="'Liberation Sans', Arial, sans-serif" letter-spacing="-0.9">-1</text>
<line x1="2271.5" y1="1339.2" x2="2260.5" y2="1339.2" stroke="#000000" stroke-width="1.7" stroke-linecap="butt"/>
<text x="2286.5" y="1361.2" fill="#000000" font-size="55" text-anchor="start" font-family="'Liberation Sans', Arial, sans-serif" letter-spacing="-0.9">-0.5</text>
<line x1="2271.5" y1="1219.9" x2="2260.5" y2="1219.9" stroke="#000000" stroke-width="1.7" stroke-linecap="butt"/>
<text x="2286.5" y="1241.9" fill="#000000" font-size="55" text-anchor="start" font-family="'Liberation Sans', Arial, sans-serif">0</text>
<line x1="2271.5" y1="1100.6" x2="2260.5" y2="1100.6" stroke="#000000" stroke-width="1.7" stroke-linecap="butt"/>
<text x="2286.5" y="1122.6" fill="#000000" font-size="55" text-anchor="start" font-family="'Liberation Sans', Arial, sans-serif" letter-spacing="-0.9">0.5</text>
<text transform="translate(66.8,1458.55) rotate(-90) scale(1,1.027)" fill="#ff00ff" font-size="59.3" text-anchor="middle" font-family="'Liberation Sans', Arial, sans-serif" xml:space="preserve"><tspan font-size="59.3">Chl-a (mg m</tspan><tspan font-size="47.5" dy="-28.238">-3</tspan><tspan font-size="59.3" dy="28.238">)</tspan></text>
<text transform="translate(272.2,1458.55) rotate(-90) scale(1,1.027)" fill="#00ffff" font-size="59.3" text-anchor="middle" font-family="'Liberation Sans', Arial, sans-serif" xml:space="preserve"><tspan font-size="59.3">MLD (m)</tspan></text>
<text transform="translate(463.9,1458.55) rotate(-90) scale(1,1.027)" fill="#edb120" font-size="59.3" text-anchor="middle" font-family="'Liberation Sans', Arial, sans-serif" xml:space="preserve"><tspan font-size="59.3">E-P (mm day</tspan><tspan font-size="47.5" dy="-28.238">-1</tspan><tspan font-size="59.3" dy="28.238">)</tspan></text>
<text transform="translate(646.3,1458.55) rotate(-90) scale(1,1.027)" fill="#00ff00" font-size="59.3" text-anchor="middle" font-family="'Liberation Sans', Arial, sans-serif" xml:space="preserve"><tspan font-size="59.3">SSS (PSU)</tspan></text>
<text transform="translate(882.5,1458.55) rotate(-90) scale(1,1.027)" fill="#0000ff" font-size="59.3" text-anchor="middle" font-family="'Liberation Sans', Arial, sans-serif" xml:space="preserve"><tspan font-size="59.3">SST (°C)</tspan></text>
<text transform="translate(1062.1,1458.55) rotate(-90) scale(1,1.027)" fill="#ff0000" font-size="59.3" text-anchor="middle" font-family="'Liberation Sans', Arial, sans-serif" xml:space="preserve"><tspan font-size="59.3">Wind speed (m s</tspan><tspan font-size="47.5" dy="-28.238">-1</tspan><tspan font-size="59.3" dy="28.238">)</tspan></text>
<text transform="translate(2467.4,1458.55) rotate(-90) scale(1,1.027)" fill="#000000" font-size="59.3" text-anchor="middle" font-family="'Liberation Sans', Arial, sans-serif" xml:space="preserve"><tspan font-size="59.3">Air-sea CO</tspan><tspan font-size="45" dy="27.264">2</tspan><tspan font-size="59.3" dy="-27.264"> flux (mol m</tspan><tspan font-size="47.5" dy="-28.238">-2</tspan><tspan font-size="59.3" dy="28.238"> yr</tspan><tspan font-size="47.5" dy="-28.238">-1</tspan><tspan font-size="59.3" dy="28.238">)</tspan></text>
<text x="15.1" y="52.9" fill="#000000" font-size="73" text-anchor="start" font-family="'Liberation Serif', 'Times New Roman', serif">(</text>
<text x="36.9" y="49.3" fill="#000000" font-size="55" text-anchor="start" font-family="'Liberation Serif', 'Times New Roman', serif">A</text>
<text x="71.5" y="52.9" fill="#000000" font-size="73" text-anchor="start" font-family="'Liberation Serif', 'Times New Roman', serif">)</text>
<text x="15.1" y="1071.9" fill="#000000" font-size="73" text-anchor="start" font-family="'Liberation Serif', 'Times New Roman', serif">(</text>
<text x="38.5" y="1070.7" fill="#000000" font-size="55" text-anchor="start" font-family="'Liberation Serif', 'Times New Roman', serif">B</text>
<text x="75.7" y="1071.9" fill="#000000" font-size="73" text-anchor="start" font-family="'Liberation Serif', 'Times New Roman', serif">)</text>
<text x="1625" y="92.4" fill="#000000" font-size="71.8" text-anchor="start" font-family="'Liberation Serif', 'Times New Roman', serif">Region A</text>
<text x="1625" y="1098.8" fill="#000000" font-size="71.8" text-anchor="start" font-family="'Liberation Serif', 'Times New Roman', serif">Region B</text>
<text transform="translate(1724.2,2033.5) scale(1,1.027)" fill="#262626" font-size="59.3" text-anchor="middle" font-family="'Liberation Sans', Arial, sans-serif">Month</text>
</svg>
</body></html>
